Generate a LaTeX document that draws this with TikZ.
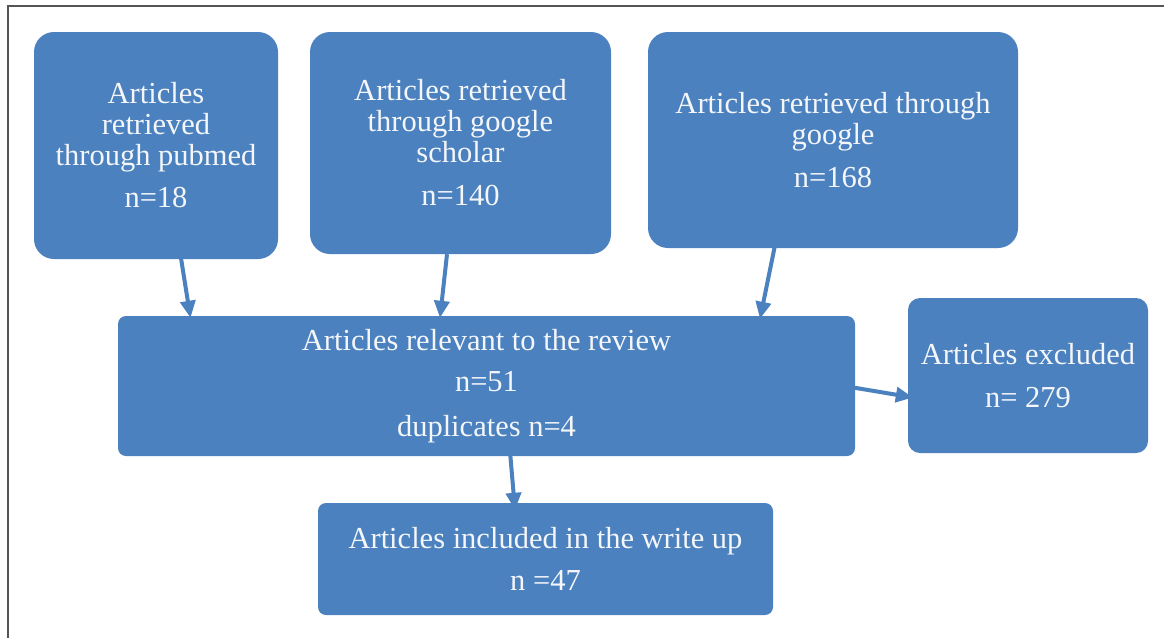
\documentclass[tikz,border=0pt]{standalone}
\usepackage{fontspec}
\setmainfont{Liberation Serif}
\usetikzlibrary{arrows.meta,calc}
\definecolor{boxblue}{HTML}{4A81BE}
\definecolor{framegray}{HTML}{555555}
\definecolor{boxtext}{HTML}{F4F6FA}
\begin{document}
\begin{tikzpicture}[x=1pt,y=-1pt,
  box/.style={fill=boxblue, text=boxtext, align=center, inner sep=0pt,
    font=\fontsize{30.5}{31}\selectfont},
  arr/.style={draw=boxblue, line width=4pt, -{Triangle[length=17pt,width=15pt]}}]
\useasboundingbox (0,0) rectangle (1164,638);
\fill[white] (0,0) rectangle (1164,638);
\draw[line width=1.5pt, framegray] (8,638) -- (8,6) -- (1164,6);

\node[box, rounded corners=20pt, minimum width=244pt, minimum height=227pt] (p1) at (156,145.5)
  {Articles\\retrieved\\through pubmed\\[11pt]n=18};
\node[box, rounded corners=20pt, minimum width=301pt, minimum height=222pt] (p2) at (460.5,143)
  {Articles retrieved\\through google\\scholar\\[12pt]n=140};
\node[box, rounded corners=20pt, minimum width=370pt, minimum height=216pt] (p3) at (833,140)
  {Articles retrieved through\\google\\[12pt]n=168};
\node[box, rounded corners=8pt, minimum width=737pt, minimum height=140pt] (rel) at (486.5,386)
  {Articles relevant to the review\\[10pt]n=51\\[14pt]duplicates n=4};
\node[box, rounded corners=12pt, minimum width=240pt, minimum height=155pt] (exc) at (1028,375.5)
  {Articles excluded\\[12pt]n= 279};
\node[box, rounded corners=8pt, minimum width=455pt, minimum height=112pt] (inc) at (545.5,559)
  {Articles included in the write up\\[11pt]n =47};

\draw[arr] ([xshift=25pt,yshift=1pt]p1.south) -- ([xshift=-296pt,yshift=-2pt]rel.north);
\draw[arr] ([xshift=-13.5pt]p2.south) -- ([xshift=-46.5pt,yshift=-2pt]rel.north);
\draw[arr] ([xshift=-58pt,yshift=3pt]p3.south) -- ([xshift=273.5pt,yshift=-3pt]rel.north);
\draw[arr] ([xshift=-5pt,yshift=-1pt]rel.east) -- ([xshift=5pt,yshift=-22pt]exc.west);
\draw[arr] ([xshift=21.5pt,yshift=28pt]rel.south) -- ([xshift=-30.5pt,yshift=-7pt]inc.north);
\end{tikzpicture}
\end{document}
